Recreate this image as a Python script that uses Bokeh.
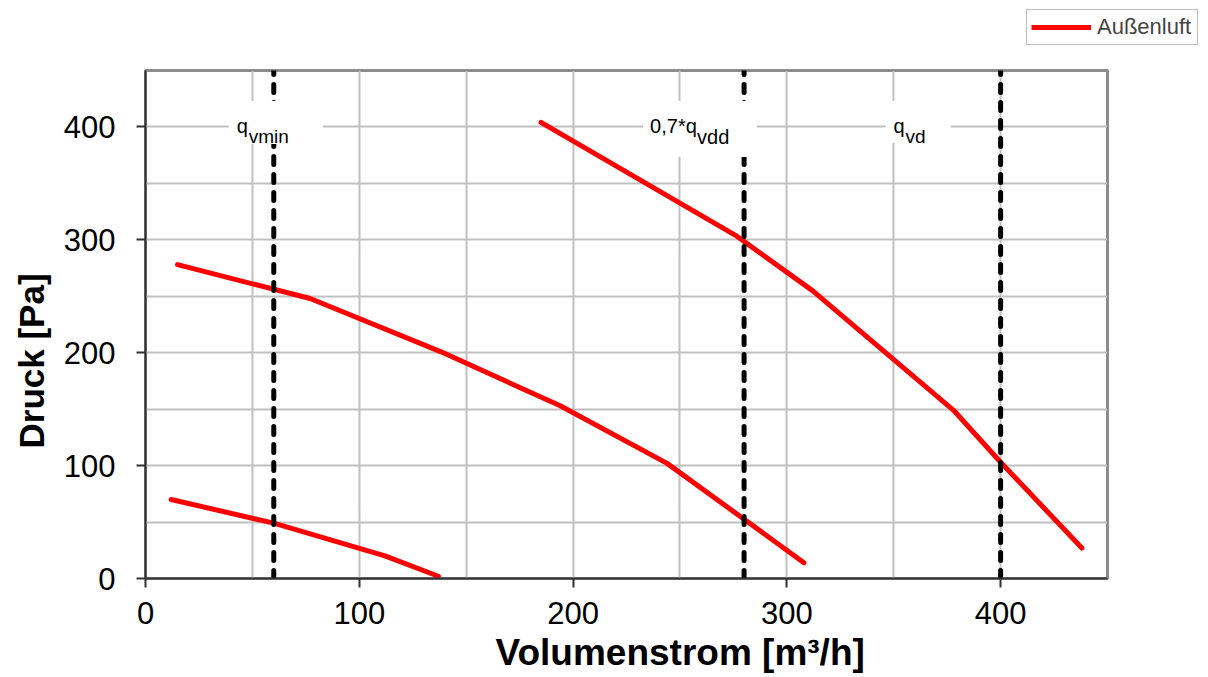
import math
from bokeh.plotting import figure
from bokeh.layouts import column
from bokeh.models import Range1d, SingleIntervalTicker, Label, Legend, LegendItem, Title
from bokeh.embed import file_html
from bokeh.resources import INLINE

FONT = "Liberation Sans"

# ---- data ----
curve1_x = [12, 60, 112, 137]
curve1_y = [70, 49, 20, 2]
curve2_x = [15, 77, 138, 194, 244, 308]
curve2_y = [278, 248, 201, 153, 102, 14]
curve3_x = [185, 276, 312, 378, 400, 438]
curve3_y = [404, 304, 255, 149, 103, 27]

marker_x = [60, 280, 400]
marker_main = ["q", "0,7*q", "q"]
marker_sub = ["vmin", "vdd", "vd"]
marker_label_y = 400

x_max = 450
y_max = 450
tick_step = 100
grid_step = 50

series_name = "Außenluft"
x_title = "Volumenstrom [m³/h]"
y_title = "Druck [Pa]"

# ---- styling / layout ----
RED = "#ff0000"
# (box x_offset, sub x_offset, sub font size, padding (left, right, top, bottom))
marker_style = [
    (-45, -25, "19px", (8, 75, 14, 7)),
    (-101, -47, "20px", (7, 60, 14, 20)),
    (-115, -95, "19px", (8, 46, 14, 6)),
]

LEG_H = 50
TOTAL_H = 677

# ---- legend strip above the chart (no axes) ----
pl = figure(width=1200, height=LEG_H, output_backend="svg", toolbar_location=None,
            x_axis_location=None, y_axis_location=None,
            x_range=Range1d(-1, 0), y_range=Range1d(-1, 0),
            min_border=0, background_fill_color="white", border_fill_color="white")
pl.grid.visible = False
pl.outline_line_color = None
if "frame_align" in pl.properties():
    pl.frame_align = False
    leg_x = 1026
else:
    leg_x = 790
# the series itself, lying outside this strip's visible range: only its legend entry shows
leg_r = pl.line(x=curve1_x, y=curve1_y, line_color=RED, line_width=5)
legend = Legend(items=[LegendItem(label=series_name, renderers=[leg_r])],
                location=(leg_x, 5),
                border_line_color="#808080", border_line_width=1,
                background_fill_color="white", background_fill_alpha=1,
                padding=4, margin=0, spacing=0,
                glyph_width=60, glyph_height=20, label_standoff=6, label_width=96,
                label_text_font=FONT, label_text_font_size="22px")
pl.add_layout(legend, "center")

# ---- main chart ----
p = figure(width=1200, height=TOTAL_H - LEG_H,
           x_range=Range1d(0, x_max), y_range=Range1d(0, y_max),
           output_backend="svg", toolbar_location=None,
           min_border_left=145, min_border_right=93,
           min_border_top=70 - LEG_H, min_border_bottom=99,
           background_fill_color="white", border_fill_color="white")
if "frame_align" in p.properties():
    p.frame_align = False

p.outline_line_color = "#8c8c8c"
p.outline_line_width = 3

for g in (p.xgrid, p.ygrid):
    g.ticker = SingleIntervalTicker(interval=grid_step)
    g.grid_line_color = "#c0c0c0"
    g.grid_line_width = 2

for ax in (p.xaxis, p.yaxis):
    ax.ticker = SingleIntervalTicker(interval=tick_step)
    ax.minor_tick_line_color = None
    ax.major_tick_in = 0
    ax.major_tick_out = 9
    ax.major_tick_line_color = "#333333"
    ax.major_tick_line_width = 2
    ax.axis_line_color = "#333333"
    ax.axis_line_width = 2
    ax.major_label_text_font = FONT
    ax.major_label_text_font_size = "31px"
    ax.major_label_text_color = "black"
p.xaxis.major_label_standoff = 14
p.yaxis.major_label_standoff = 21

# red curves
p.multi_line(xs=[curve1_x, curve2_x, curve3_x], ys=[curve1_y, curve2_y, curve3_y],
             line_color=RED, line_width=5, line_join="round", line_cap="round")

# dashed marker lines
p.multi_line(xs=[[mx, mx] for mx in marker_x], ys=[[0, y_max] for _ in marker_x],
             line_color="black", line_width=5, line_dash="8 10", line_cap="round")

# marker labels
for mx, main, sub, (oxb, oxs, sub_fs, pad) in zip(marker_x, marker_main, marker_sub, marker_style):
    p.add_layout(Label(x=mx, y=marker_label_y, x_offset=oxb, y_offset=26, text=main,
                       text_font=FONT, text_font_size="20px", text_color="black",
                       text_align="left", text_baseline="top",
                       background_fill_color="white", padding=pad))
    p.add_layout(Label(x=mx, y=marker_label_y, x_offset=oxs, y_offset=-10, text=sub,
                       text_font=FONT, text_font_size=sub_fs, text_color="black",
                       text_align="left", text_baseline="alphabetic"))

# axis titles
p.add_layout(Title(text=x_title, align="left", offset=350, standoff=7,
                   text_font=FONT, text_font_size="37px", text_font_style="bold",
                   text_color="black"), "below")
p.add_layout(Title(text=y_title, align="left", offset=130, standoff=19,
                   text_font=FONT, text_font_size="35px", text_font_style="bold",
                   text_color="black"), "left")

open("out.html", "w").write(file_html(column(pl, p, spacing=0), INLINE))
